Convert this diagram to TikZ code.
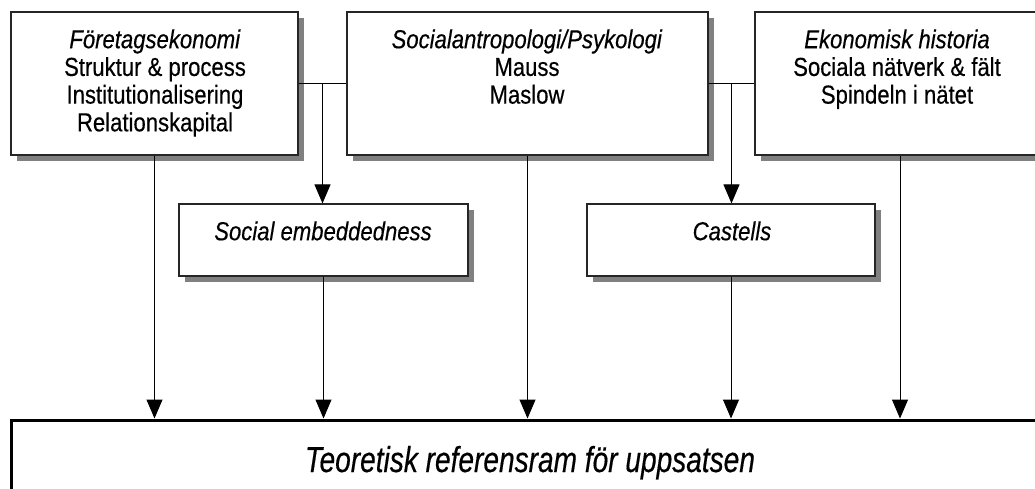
\documentclass[tikz,border=0pt]{standalone}
\usepackage{fontspec}
\setmainfont{Liberation Sans}[FakeStretch=0.85,FakeBold=0.4]
\newfontfamily\titlefont{Liberation Sans}[FakeStretch=0.78,FakeBold=0.4]
\usetikzlibrary{arrows.meta,shadows,calc}

\begin{document}
\begin{tikzpicture}[x=1pt,y=-1pt,
  box/.style={rectangle, draw=black!85, line width=1.2pt, fill=white, inner sep=0pt,
    drop shadow={opacity=1, fill=black!50, shadow xshift=5.5pt, shadow yshift=-5.5pt}},
  frame/.style={rectangle, draw=black, line width=3pt, fill=white, inner sep=0pt},
  txt/.style={anchor=north, inner sep=0pt, align=center,
    font=\fontsize{26}{27.7}\selectfont},
  link/.style={line width=1pt, draw=black},
  arr/.style={link, -{Triangle[length=19pt,width=16pt]}}
]
\clip (0,0) rectangle (1035,488);
\fill[white] (0,0) rectangle (1035,488);

% three source disciplines
\node[box, minimum width=287pt, minimum height=143pt] (b1) at (154.5,83.5) {};
\node[box, minimum width=361pt, minimum height=143pt] (b2) at (527.5,83.5) {};
\node[box, minimum width=290pt, minimum height=143pt] (b3) at (900,83.5) {};

% intermediate concepts
\node[box, minimum width=289pt, minimum height=72pt] (emb) at (323.5,240) {};
\node[box, minimum width=288pt, minimum height=72pt] (cas) at (731,240) {};

% common frame of reference
\node[frame, minimum width=1034pt, minimum height=110pt] (ref) at (528,475) {};

% texts
\node[txt] (t1) at (155,27) {\rule{0pt}{21pt}\textit{Företagsekonomi}\\Struktur \& process\\Institutionalisering\\Relationskapital};
\node[txt] (t2) at (527,27) {\rule{0pt}{21pt}\textit{Socialantropologi/Psykologi}\\Mauss\\Maslow};
\node[txt] (t3) at (897,27) {\rule{0pt}{21pt}\textit{Ekonomisk historia}\\Sociala nätverk \& fält\\Spindeln i nätet};
\node[txt] (t4) at (323,219) {\rule{0pt}{21pt}\textit{Social embeddedness}};
\node[txt] (t5) at (732,219) {\rule{0pt}{21pt}\textit{Castells}};
\node[anchor=base, inner sep=0pt] (t6) at (530,472)
  {\titlefont\fontsize{36}{40}\selectfont\itshape Teoretisk referensram för uppsatsen};

% junctions between the upper boxes
\coordinate (j1) at ($(b1.east)!0.5!(b2.west)$);
\coordinate (j2) at ($(b2.east)!0.5!(b3.west)$);
\draw[link] (b1.east) -- (b2.west);
\draw[link] (b2.east) -- (b3.west);
\draw[arr] (j1) -- (j1 |- emb.north);
\draw[arr] (j2) -- (j2 |- cas.north);

% everything feeds the frame of reference
\draw[arr] (b1.south) -- (b1.south |- ref.north);
\draw[arr] (emb.south) -- (emb.south |- ref.north);
\draw[arr] (b2.south) -- (b2.south |- ref.north);
\draw[arr] (cas.south) -- (cas.south |- ref.north);
\draw[arr] (b3.south) -- (b3.south |- ref.north);
\end{tikzpicture}
\end{document}
